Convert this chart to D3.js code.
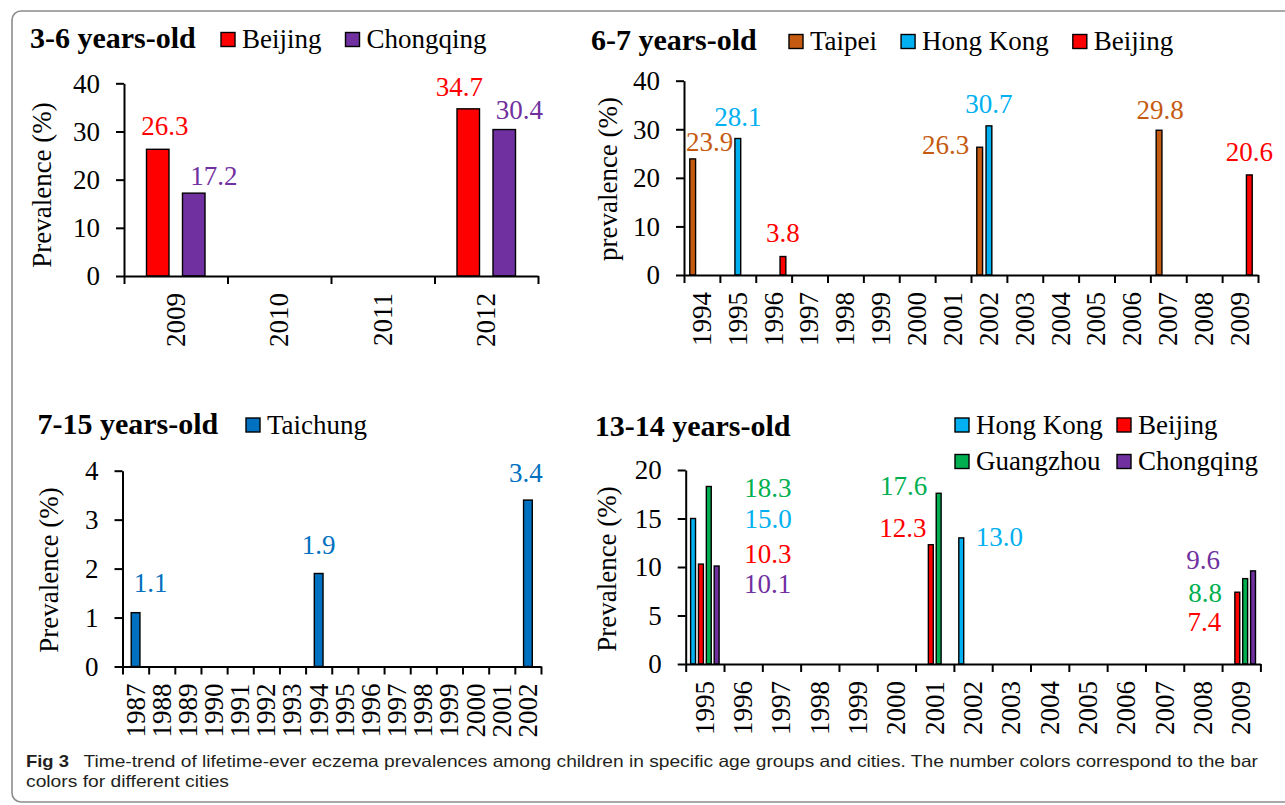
<!DOCTYPE html>
<html>
<head>
<meta charset="utf-8">
<script src="https://cdn.jsdelivr.net/npm/d3@7"></script>
<style>
  html, body { margin: 0; padding: 0; background: #fff; }
  svg { display: block; }
</style>
</head>
<body>
<svg id="fig" width="1285" height="805"></svg>
<script>
// ---------- data ----------
// 3-6 years-old
const years36 = ["2009", "2010", "2011", "2012"];
const beijing36 = [26.3, null, null, 34.7];
const chongqing36 = [17.2, null, null, 30.4];
const yTicks36 = [0, 10, 20, 30, 40];

// 6-7 years-old
const years67 = ["1994", "1995", "1996", "1997", "1998", "1999", "2000", "2001",
                 "2002", "2003", "2004", "2005", "2006", "2007", "2008", "2009"];
const taipei67   = [23.9, null, null, null, null, null, null, null, 26.3, null, null, null, null, 29.8, null, null];
const hongKong67 = [null, 28.1, null, null, null, null, null, null, 30.7, null, null, null, null, null, null, null];
const beijing67  = [null, null, 3.8, null, null, null, null, null, null, null, null, null, null, null, null, 20.6];
const yTicks67 = [0, 10, 20, 30, 40];

// 7-15 years-old
const years715 = ["1987", "1988", "1989", "1990", "1991", "1992", "1993", "1994",
                  "1995", "1996", "1997", "1998", "1999", "2000", "2001", "2002"];
const taichung715 = [1.1, null, null, null, null, null, null, 1.9, null, null, null, null, null, null, null, 3.4];
const yTicks715 = [0, 1, 2, 3, 4];

// 13-14 years-old
const years1314 = ["1995", "1996", "1997", "1998", "1999", "2000", "2001", "2002",
                   "2003", "2004", "2005", "2006", "2007", "2008", "2009"];
const hongKong1314  = [15.0, null, null, null, null, null, null, 13.0, null, null, null, null, null, null, null];
const beijing1314   = [10.3, null, null, null, null, null, 12.3, null, null, null, null, null, null, null, 7.4];
const guangzhou1314 = [18.3, null, null, null, null, null, 17.6, null, null, null, null, null, null, null, 8.8];
const chongqing1314 = [10.1, null, null, null, null, null, null, null, null, null, null, null, null, null, 9.6];
const yTicks1314 = [0, 5, 10, 15, 20];

// ---------- styling ----------
const cityColors = {
  "Beijing": "#FF0000",
  "Chongqing": "#7030A0",
  "Taipei": "#C55A11",
  "Hong Kong": "#00B0F0",
  "Taichung": "#0070C0",
  "Guangzhou": "#00B050"
};
const SERIF = "'Liberation Serif', 'Times New Roman', Times, serif";
const SANS = "'Liberation Sans', Arial, sans-serif";

// value-label nudges (dx, dy in px from the top centre of each bar)
const shift36 = { "Beijing 2009": [7, -14], "Chongqing 2009": [20, -8], "Beijing 2012": [-9, -13], "Chongqing 2012": [15, -11] };
const shift67 = { "Taipei 1994": [17, -8], "Hong Kong 1995": [0, -13], "Beijing 1996": [0, -15],
                  "Taipei 2002": [-34, 7], "Hong Kong 2002": [0, -13], "Taipei 2007": [1, -11], "Beijing 2009": [0, -14] };
const shift715 = { "Taichung 1987": [15, -21], "Taichung 1994": [0, -19], "Taichung 2002": [-2, -18] };
const shift1314 = { "Hong Kong 1995": [75, 9], "Beijing 1995": [67, -1], "Guangzhou 1995": [59, 11], "Chongqing 1995": [51, 27],
                    "Beijing 2001": [-28, -8], "Guangzhou 2001": [-35, 2], "Hong Kong 2002": [38, 8],
                    "Beijing 2009": [-33, 39], "Guangzhou 2009": [-40, 23], "Chongqing 2009": [-50, -2] };

const panels = [
  { title: "3-6 years-old", titleX: 30, titleY: 48,
    legendRows: [{ x: 221, y: 48, names: ["Beijing", "Chongqing"] }],
    yLabel: "Prevalence (%)", yLabelX: 51, yLabelY: 185,
    x0: 124, x1: 538, yTop: 83.3, yZero: 276, ticks: yTicks36,
    years: years36, shifts: shift36,
    series: [{ name: "Beijing", values: beijing36 }, { name: "Chongqing", values: chongqing36 }] },
  { title: "6-7 years-old", titleX: 591, titleY: 50,
    legendRows: [{ x: 789, y: 50, names: ["Taipei", "Hong Kong", "Beijing"] }],
    yLabel: "prevalence (%)", yLabelX: 617, yLabelY: 179,
    x0: 684, x1: 1258, yTop: 80.7, yZero: 275, ticks: yTicks67,
    years: years67, shifts: shift67,
    series: [{ name: "Taipei", values: taipei67 }, { name: "Hong Kong", values: hongKong67 }, { name: "Beijing", values: beijing67 }] },
  { title: "7-15 years-old", titleX: 37.5, titleY: 433.5,
    legendRows: [{ x: 246, y: 433.5, names: ["Taichung"] }],
    yLabel: "Prevalence (%)", yLabelX: 58, yLabelY: 570,
    x0: 122.5, x1: 541, yTop: 470.7, yZero: 666.5, ticks: yTicks715,
    years: years715, shifts: shift715,
    series: [{ name: "Taichung", values: taichung715 }] },
  { title: "13-14 years-old", titleX: 594.7, titleY: 436,
    legendRows: [{ x: 955, y: 433.5, names: ["Hong Kong", "Beijing"] },
                 { x: 955, y: 470, names: ["Guangzhou", "Chongqing"] }],
    legendColumns: [955, 1117],
    yLabel: "Prevalence (%)", yLabelX: 616, yLabelY: 569,
    x0: 685.7, x1: 1260.4, yTop: 470, yZero: 664, ticks: yTicks1314,
    years: years1314, shifts: shift1314,
    series: [{ name: "Hong Kong", values: hongKong1314 }, { name: "Beijing", values: beijing1314 },
             { name: "Guangzhou", values: guangzhou1314 }, { name: "Chongqing", values: chongqing1314 }] }
];

const svg = d3.select("#fig");

// outer frame of the figure
svg.append("rect")
  .attr("x", 12).attr("y", 11).attr("width", 1290).attr("height", 791)
  .attr("rx", 9).attr("ry", 9)
  .attr("fill", "none").attr("stroke", "#8c8c8c").attr("stroke-width", 1.6);

function drawPanel(p) {
  const g = svg.append("g");
  const n = p.years.length;

  const x = d3.scaleBand().domain(p.years).range([p.x0, p.x1]).padding(0);
  const y = d3.scaleLinear().domain([0, d3.max(p.ticks)]).range([p.yZero, p.yTop]);
  // series slots inside one year: gap width 200 %, series overlap -60 %
  const sub = d3.scaleBand().domain(p.series.map(s => s.name))
    .range([0, x.bandwidth()]).paddingInner(0.375).paddingOuter(0.625);
  const edges = d3.scaleLinear().domain([0, n]).range([p.x0, p.x1]);

  // bars
  p.series.forEach(s => {
    const pts = p.years.map((yr, i) => ({ yr, v: s.values[i] })).filter(d => d.v != null);
    g.selectAll(null).data(pts).join("rect")
      .attr("x", d => x(d.yr) + sub(s.name))
      .attr("width", sub.bandwidth())
      .attr("y", d => y(d.v))
      .attr("height", d => y(0) - y(d.v))
      .attr("fill", cityColors[s.name])
      .attr("stroke", "#000").attr("stroke-width", 1.4);

    g.selectAll(null).data(pts).join("text")
      .attr("x", d => x(d.yr) + sub(s.name) + sub.bandwidth() / 2 + (p.shifts[s.name + " " + d.yr] || [0, -13])[0])
      .attr("y", d => y(d.v) + (p.shifts[s.name + " " + d.yr] || [0, -13])[1])
      .attr("text-anchor", "middle")
      .attr("fill", cityColors[s.name])
      .style("font-family", SERIF).style("font-size", "27px")
      .text(d => d.v.toFixed(1));
  });

  // y axis
  const ya = g.append("g").attr("transform", `translate(${p.x0},0)`)
    .call(d3.axisLeft(y).tickValues(p.ticks).tickSize(8).tickSizeOuter(0).tickPadding(16).tickFormat(d3.format("d")));
  ya.selectAll("path, line").attr("stroke", "#000").attr("stroke-width", 2);
  ya.selectAll("text").attr("fill", "#000").attr("dy", "0.33em")
    .style("font-family", SERIF).style("font-size", "27px");

  // x axis: tick marks at year boundaries
  const xe = g.append("g").attr("transform", `translate(0,${p.yZero})`)
    .call(d3.axisBottom(edges).tickValues(d3.range(n + 1)).tickSize(8).tickSizeOuter(0).tickFormat(""));
  xe.selectAll("path, line").attr("stroke", "#000").attr("stroke-width", 2);

  // x axis: rotated year labels at band centres
  const xl = g.append("g").attr("transform", `translate(0,${p.yZero})`)
    .call(d3.axisBottom(x).tickSize(0));
  xl.select(".domain").remove();
  xl.selectAll("text")
    .attr("transform", "rotate(-90)")
    .attr("x", -17).attr("y", 0).attr("dy", "0.33em")
    .attr("text-anchor", "end").attr("fill", "#000")
    .style("font-family", SERIF).style("font-size", "27px");

  // y axis title
  g.append("text")
    .attr("transform", `translate(${p.yLabelX},${p.yLabelY}) rotate(-90)`)
    .attr("text-anchor", "middle")
    .style("font-family", SERIF).style("font-size", "27px")
    .text(p.yLabel);

  // panel title
  g.append("text")
    .attr("x", p.titleX).attr("y", p.titleY)
    .style("font-family", SERIF).style("font-size", "30px").style("font-weight", "bold")
    .text(p.title);

  // legend
  p.legendRows.forEach(row => {
    let cx = row.x;
    row.names.forEach((name, i) => {
      if (p.legendColumns) cx = p.legendColumns[i];
      g.append("rect")
        .attr("x", cx).attr("y", row.y - 15.5).attr("width", 14).attr("height", 14)
        .attr("fill", cityColors[name]).attr("stroke", "#000").attr("stroke-width", 1.4);
      const t = g.append("text")
        .attr("x", cx + 21).attr("y", row.y)
        .style("font-family", SERIF).style("font-size", "27px")
        .text(name);
      cx = cx + 21 + t.node().getComputedTextLength() + 24;
    });
  });
}

panels.forEach(drawPanel);

// caption
const cap = svg.append("g").style("font-family", SANS).attr("fill", "#231f20");
cap.append("text").attr("x", 26).attr("y", 767)
  .style("font-size", "16.5px").style("font-weight", "bold")
  .attr("textLength", 43).attr("lengthAdjust", "spacingAndGlyphs")
  .text("Fig 3");
cap.append("text").attr("x", 83.5).attr("y", 767)
  .style("font-size", "16.5px")
  .attr("textLength", 1174.5).attr("lengthAdjust", "spacingAndGlyphs")
  .text("Time-trend of lifetime-ever eczema prevalences among children in specific age groups and cities. The number colors correspond to the bar");
cap.append("text").attr("x", 26).attr("y", 787)
  .style("font-size", "16.5px")
  .attr("textLength", 203).attr("lengthAdjust", "spacingAndGlyphs")
  .text("colors for different cities");
</script>
</body>
</html>
